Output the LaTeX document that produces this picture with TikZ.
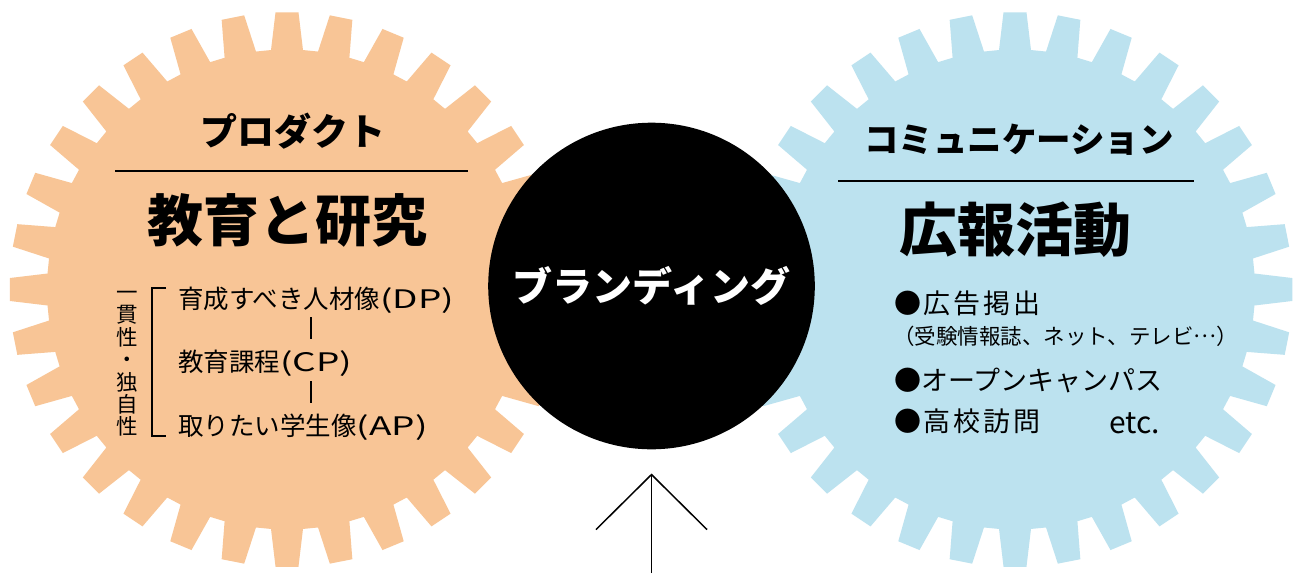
\documentclass[tikz,border=0pt]{standalone}
\usepackage{fontspec}
\usetikzlibrary{arrows.meta}
\newfontfamily\jp{Noto Sans CJK JP}
\definecolor{gearorange}{RGB}{248,197,150}
\definecolor{gearblue}{RGB}{188,226,239}
\newcommand{\wide}[1]{\scalebox{1.45}[1]{#1}}
\tikzset{
  gearfill/.style={fill=#1},
  head/.style={font=\jp\bfseries\fontsize{37}{37}\selectfont, inner sep=0pt},
  bigword/.style={font=\jp\bfseries\fontsize{56}{56}\selectfont, inner sep=0pt},
  listitem/.style={font=\jp\fontsize{25.5}{25.5}\selectfont, inner sep=0pt, anchor=west},
  bulletitem/.style={font=\jp\fontsize{27}{27}\selectfont, inner sep=0pt, anchor=west},
  rule/.style={line width=1.3pt},
}
\newcommand{\drawgear}[3]{%
  \begin{scope}[shift={(#1,#2)}]
    \fill[gearfill=#3] (-3.82:240)
      \foreach \i in {0,...,31}{
        -- ({\i*11.25-3.82}:240) -- ({\i*11.25-2.37}:277.5)
        -- ({\i*11.25+2.37}:277.5) -- ({\i*11.25+3.82}:240)
      } -- cycle;
  \end{scope}}
\begin{document}
\begin{tikzpicture}[x=1pt,y=-1pt]
\useasboundingbox[fill=white] (0,0) rectangle (1293,573);
% gears
\drawgear{287}{289.5}{gearorange}
\drawgear{1015}{289.5}{gearblue}
% central circle
\node[circle, fill=black, minimum size=326.6pt, inner sep=0pt,
      text=white, font=\jp\bfseries\fontsize{40}{40}\selectfont] (brand) at (651.5,286) {ブランディング};
% arrow
\coordinate (arrowbase) at (651.5,573);
\draw[line width=1.5pt, -{Straight Barb[length=55pt,width=111pt,line width=1.5pt]}]
  (arrowbase) -- ([yshift=-24pt]brand.south);
% left gear text
\node[head] (prod) at (293,131) {プロダクト};
\coordinate (l1a) at (115,171); \coordinate (l1b) at (468,171);
\draw[rule] (l1a) -- (l1b);
\node[bigword] (kyoiku) at (287,220) {教育と研究};
\node[font=\jp\fontsize{21.5}{22.4}\selectfont, inner sep=0pt, align=center] (ikkan) at (127,364)
  {一\\貫\\性\\・\\独\\自\\性};
\coordinate (bk1) at (166,288); \coordinate (bk2) at (152,288);
\coordinate (bk3) at (152,436); \coordinate (bk4) at (166,436);
\draw[line width=1.2pt] (bk1) -- (bk2) -- (bk3) -- (bk4);
\node[listitem] (dp) at (178,300) {育成すべき人材像\wide{(DP)}};
\node[listitem] (cp) at (178,363) {教育課程\wide{(CP)}};
\node[listitem] (ap) at (178,427) {取りたい学生像\wide{(AP)}};
\coordinate (bar1a) at (311,317); \coordinate (bar1b) at (311,339);
\coordinate (bar2a) at (311,381); \coordinate (bar2b) at (311,403);
\draw[line width=2pt] (bar1a) -- (bar1b);
\draw[line width=2pt] (bar2a) -- (bar2b);
% right gear text
\node[head, font=\jp\bfseries\fontsize{34.5}{34.5}\selectfont] (comm) at (1019,140) {コミュニケーション};
\coordinate (l2a) at (838,181); \coordinate (l2b) at (1194,181);
\draw[rule] (l2a) -- (l2b);
\node[bigword, font=\jp\bfseries\fontsize{58}{58}\selectfont] (koho) at (1015,230) {広報活動};
\node[bulletitem, font=\jp\fontsize{27}{27}\selectfont\addfontfeature{LetterSpace=10}] (ad) at (894,303) {●広告掲出};
\node[listitem, font=\jp\fontsize{21.5}{21.5}\selectfont] (media) at (893,336) {（受験情報誌、ネット、テレビ\raisebox{0.3em}{…}）};
\node[bulletitem] (oc) at (894,380) {●オープンキャンパス};
\node[bulletitem, font=\jp\fontsize{27}{27}\selectfont\addfontfeature{LetterSpace=10}] (hs) at (894,421) {●高校訪問};
\node[listitem, font=\jp\fontsize{30}{30}\selectfont] (etc) at (1109,423) {etc.};
\end{tikzpicture}
\end{document}
